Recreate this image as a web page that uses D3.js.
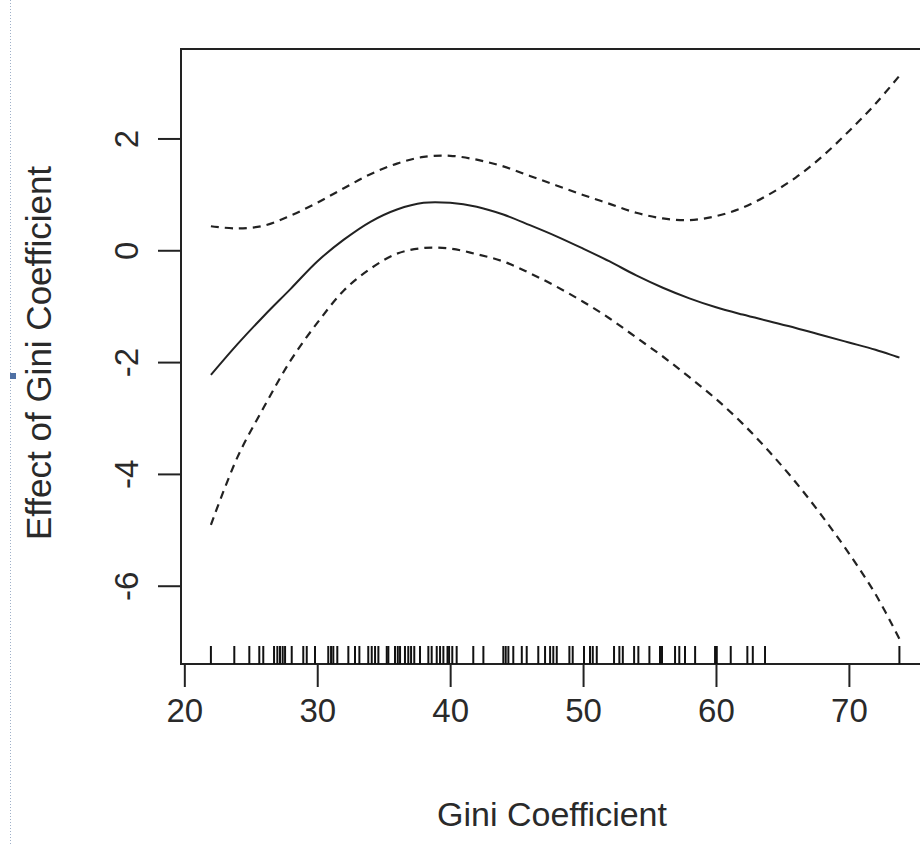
<!DOCTYPE html>
<html>
<head>
<meta charset="utf-8">
<script src="https://cdn.jsdelivr.net/npm/d3@7"></script>
<style>
  body { margin: 0; background: #fff; }
  svg { display: block; }
  text { font-family: 'Liberation Sans', Arial, sans-serif; fill: #2a2a2a; }
</style>
</head>
<body>
<svg width="920" height="845"></svg>
<script>
// smooth effect of the Gini coefficient, with its confidence band
var giniX  = [22, 24, 26, 28, 30, 32, 34, 36, 38, 40, 42, 44, 46, 48, 50, 52, 54, 56, 58, 60, 62, 64, 66, 68, 70, 72, 73.8];
var fitY   = [-2.23, -1.68, -1.17, -0.69, -0.2, 0.19, 0.51, 0.73, 0.85, 0.85, 0.78, 0.64, 0.45, 0.25, 0.03, -0.2, -0.45, -0.67, -0.86, -1.02, -1.15, -1.27, -1.39, -1.52, -1.65, -1.78, -1.92];
var upperY = [0.43, 0.39, 0.44, 0.62, 0.85, 1.11, 1.36, 1.55, 1.67, 1.69, 1.62, 1.5, 1.33, 1.16, 0.99, 0.83, 0.67, 0.57, 0.54, 0.61, 0.76, 1.0, 1.3, 1.68, 2.13, 2.62, 3.12];
var lowerY = [-4.91, -3.7, -2.8, -1.97, -1.3, -0.72, -0.33, -0.06, 0.04, 0.03, -0.07, -0.2, -0.41, -0.65, -0.92, -1.22, -1.56, -1.9, -2.27, -2.66, -3.1, -3.6, -4.15, -4.76, -5.42, -6.15, -6.95];

// observed Gini values (rug)
var rugX = [22.0, 23.76, 24.89, 25.64, 25.94, 26.75, 27.0, 27.2, 27.4, 27.58, 28.08, 28.95, 29.21, 29.83,
  30.83, 31.04, 31.21, 31.51, 32.34, 32.84, 33.17, 33.84, 34.1, 34.35, 34.6, 35.23, 35.35, 35.85, 36.06,
  36.23, 36.6, 36.85, 37.06, 37.3, 37.73, 38.36, 38.61, 38.99, 39.24, 39.49, 39.8, 39.92, 40.16, 40.49,
  41.74, 42.5, 44.0, 44.18, 44.38, 44.75, 45.39, 45.76, 46.63, 47.14, 47.52, 47.76, 48.02, 48.97, 49.22,
  50.07, 50.52, 50.73, 51.03, 52.33, 52.73, 52.99, 53.84, 54.16, 54.99, 55.79, 55.94, 56.92, 57.24,
  57.67, 58.43, 59.93, 60.06, 61.11, 62.36, 62.77, 63.69, 73.8];

var xTicks = [20, 30, 40, 50, 60, 70];
var yTicks = [-6, -4, -2, 0, 2];

var svg = d3.select('svg');

var x = d3.scaleLinear().domain([19.75, 75.5]).range([181, 922]),
    y = d3.scaleLinear().domain([-7.4, 3.6]).range([664, 49]);

// page margin artefacts at the left edge
svg.append('line')
  .attr('x1', 10.5).attr('x2', 10.5).attr('y1', 0).attr('y2', 845)
  .attr('stroke', '#9fb0c8').attr('stroke-width', 1).attr('stroke-dasharray', '1,2');
svg.append('rect')
  .attr('x', 10).attr('y', 373).attr('width', 6).attr('height', 6)
  .attr('fill', '#4f70a4');

// plot box
svg.append('rect')
  .attr('x', x(19.75)).attr('y', y(3.6))
  .attr('width', x(75.5) - x(19.75)).attr('height', y(-7.4) - y(3.6))
  .attr('fill', 'none').attr('stroke', '#222').attr('stroke-width', 2);

var xAxis = svg.append('g')
  .attr('transform', 'translate(0,' + y(-7.4) + ')')
  .call(d3.axisBottom(x).tickValues(xTicks).tickSize(23).tickPadding(12).tickSizeOuter(0));
xAxis.select('.domain').remove();
xAxis.selectAll('line').attr('stroke', '#222').attr('stroke-width', 2);
xAxis.selectAll('text').attr('font-size', 33).attr('fill', '#2a2a2a')
  .attr('font-family', "'Liberation Sans', Arial, sans-serif");

var yAxis = svg.append('g')
  .attr('transform', 'translate(' + x(19.75) + ',0)')
  .call(d3.axisLeft(y).tickValues(yTicks).tickSize(23).tickFormat(d3.format('d')).tickSizeOuter(0));
yAxis.select('.domain').remove();
yAxis.selectAll('line').attr('stroke', '#222').attr('stroke-width', 2);
yAxis.selectAll('text')
  .attr('font-size', 33).attr('fill', '#2a2a2a')
  .attr('font-family', "'Liberation Sans', Arial, sans-serif")
  .attr('text-anchor', 'middle')
  .attr('x', null).attr('dy', null)
  .attr('transform', 'translate(-43,0) rotate(-90)')
  .text(function(d) { return d < 0 ? '-' + Math.abs(d) : d; });

// rug
svg.append('g').selectAll('line')
  .data(rugX)
  .enter().append('line')
  .attr('x1', function(d) { return x(d); })
  .attr('x2', function(d) { return x(d); })
  .attr('y1', y(-7.4))
  .attr('y2', y(-7.4) - 18)
  .attr('stroke', '#111').attr('stroke-width', 2);

var line = function(vals) {
  return d3.line()
    .x(function(d, i) { return x(giniX[i]); })
    .y(function(d) { return y(d); })
    .curve(d3.curveCatmullRom.alpha(0.5))(vals);
};

svg.append('path').attr('d', line(upperY))
  .attr('fill', 'none').attr('stroke', '#222').attr('stroke-width', 2.2).attr('stroke-dasharray', '8,6');
svg.append('path').attr('d', line(lowerY))
  .attr('fill', 'none').attr('stroke', '#222').attr('stroke-width', 2.2).attr('stroke-dasharray', '8,6');
svg.append('path').attr('d', line(fitY))
  .attr('fill', 'none').attr('stroke', '#222').attr('stroke-width', 2);

// axis titles
svg.append('text')
  .attr('x', 552).attr('y', 826)
  .attr('text-anchor', 'middle').attr('font-size', 34)
  .text('Gini Coefficient');

svg.append('text')
  .attr('transform', 'translate(51,353) rotate(-90)')
  .attr('text-anchor', 'middle').attr('font-size', 35)
  .text('Effect of Gini Coefficient');
</script>
</body>
</html>
